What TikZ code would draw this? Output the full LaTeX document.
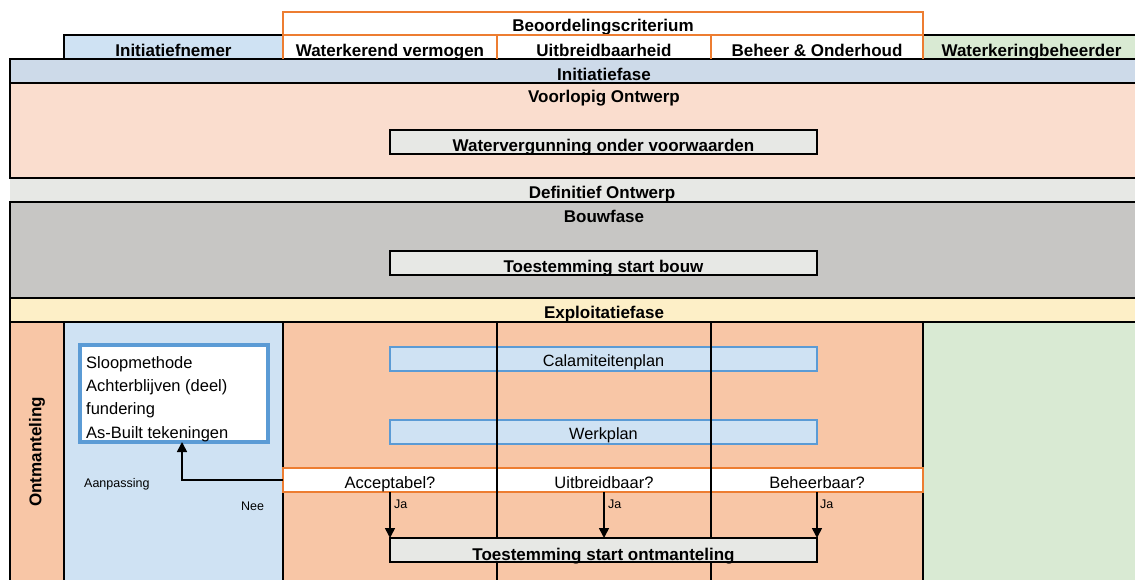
\documentclass[tikz,border=0pt]{standalone}
\usepackage{fontspec}
\setmainfont{Liberation Sans}
\usetikzlibrary{arrows.meta}
\definecolor{hdrblue}{RGB}{207,226,243}
\definecolor{wbgreen}{RGB}{217,234,211}
\definecolor{iniband}{RGB}{205,218,233}
\definecolor{voorl}{RGB}{250,221,206}
\definecolor{greyb}{RGB}{231,232,229}
\definecolor{bouw}{RGB}{199,198,196}
\definecolor{exploit}{RGB}{253,239,199}
\definecolor{peach}{RGB}{248,198,166}
\definecolor{orng}{RGB}{237,125,49}
\definecolor{bblue}{RGB}{91,155,213}
\begin{document}
\begin{tikzpicture}[x=1pt,y=-1pt,
  area/.style={draw=none,inner sep=0pt,outer sep=0pt,minimum height=24},
  cell/.style={area,text depth=0pt,text height=20,font=\fontsize{17}{20}\selectfont\bfseries},
  bandlbl/.style={inner sep=0pt,anchor=base,font=\fontsize{17}{20}\selectfont\bfseries},
  gbox/.style={area,fill=greyb,draw=black,line width=2.8pt,minimum width=427,text depth=0pt,text height=20,font=\fontsize{17}{20}\selectfont\bfseries},
  bbox/.style={area,fill=hdrblue,draw=bblue,line width=2.6pt,minimum width=427,text depth=0pt,text height=14,font=\fontsize{16.3}{19}\selectfont},
  itm/.style={inner sep=0pt,anchor=base west,font=\fontsize{16.5}{19}\selectfont},
  qtxt/.style={inner sep=0pt,anchor=base,font=\fontsize{16.5}{19}\selectfont},
  small/.style={inner sep=0pt,anchor=base west,font=\fontsize{12.5}{15}\selectfont},
  bline/.style={line width=2.8pt,black},
  oline/.style={line width=2.4pt,orng},
  arr/.style={line width=1.6pt,black,-{Triangle[length=10pt,width=10pt]}}]
\useasboundingbox (0,0) rectangle (1135,580);
\fill[white] (0,0) rectangle (1135,580);
% header
\node[cell,fill=white,minimum width=640,minimum height=23,text height=17] (crit) at (603,23.5) {Beoordelingscriterium};
\node[cell,fill=hdrblue,minimum width=219] (hIni) at (173.5,47) {Initiatiefnemer};
\node[cell,fill=white,minimum width=214] (hWK) at (390,47) {Waterkerend vermogen};
\node[cell,fill=white,minimum width=214] (hUB) at (604,47) {Uitbreidbaarheid};
\node[cell,fill=white,minimum width=212] (hBO) at (817,47) {Beheer \& Onderhoud};
\node[cell,fill=wbgreen,minimum width=217,text width=212,align=center] (hWB) at (1031.5,47) {Waterkeringbeheerder};
% bands
\node[area,fill=iniband,minimum width=1135] (bIni) at (577.5,71) {};
\node[bandlbl] (tIni) at (604,81) {Initiatiefase};
\node[area,fill=voorl,minimum width=1135,minimum height=95] (bVO) at (577.5,130.5) {};
\node[bandlbl] (tVO) at (604,103) {Voorlopig Ontwerp};
\node[gbox] (wvg) at (603.5,142) {Watervergunning onder voorwaarden};
\node[area,fill=greyb,minimum width=1135] (bDO) at (577.5,190) {};
\node[bandlbl] (tDO) at (602,198.5) {Definitief Ontwerp};
\node[area,fill=bouw,minimum width=1135,minimum height=96] (bBF) at (577.5,250) {};
\node[bandlbl] (tBF) at (604,222.5) {Bouwfase};
\node[gbox,text height=18] (tsb) at (603.5,263) {Toestemming start bouw};
\node[area,fill=exploit,minimum width=1135] (bEX) at (577.5,310) {};
\node[bandlbl] (tEX) at (604,318) {Exploitatiefase};
% bottom columns
\node[area,fill=peach,minimum width=54,minimum height=263] (cOnt) at (37,453.5) {};
\node[area,fill=hdrblue,minimum width=219,minimum height=263] (cIni) at (173.5,453.5) {};
\node[area,fill=peach,minimum width=640,minimum height=263] (cCrit) at (603,453.5) {};
\node[area,fill=wbgreen,minimum width=222,minimum height=263] (cWB) at (1034,453.5) {};
\node[inner sep=0pt,rotate=90,font=\fontsize{17}{20}\selectfont\bfseries] (tOnt) at (37,452) {Ontmanteling};
% black lines
\draw[bline] (64,59) -- (64,35) -- (283,35);
\draw[bline] (923,35) -- (1145,35);
\draw[bline] (1145,59) -- (10,59) -- (10,178) -- (1145,178);
\draw[bline] (10,83) -- (1145,83);
\draw[bline] (1145,202) -- (10,202) -- (10,585);
\draw[bline] (10,298) -- (1145,298);
\draw[bline] (10,322) -- (1145,322);
\draw[bline] (64,322) -- (64,585);
\draw[bline] (283,322) -- (283,585);
\draw[bline] (923,322) -- (923,585);
% orange header lines
\draw[oline] (283,59) -- (283,12) -- (923,12) -- (923,59);
\draw[oline] (283,35) -- (923,35);
\draw[oline] (497,35) -- (497,59);
\draw[oline] (711,35) -- (711,59);
% list box
\node[area,fill=white,draw=bblue,line width=3.2pt,minimum width=188,minimum height=97] (list) at (174,393.5) {};
\node[itm] (l1) at (86,368) {Sloopmethode};
\node[itm] (l2) at (86,391) {Achterblijven (deel)};
\node[itm] (l3) at (86,414) {fundering};
\node[itm] (l4) at (86,438) {As-Built tekeningen};
% blue boxes
\node[bbox] (cal) at (603.5,359) {Calamiteitenplan};
\node[bbox] (wp) at (603.5,432) {Werkplan};
% question row
\node[area,fill=white,draw=orng,line width=2.4pt,minimum width=640] (qrow) at (603,480) {};
\node[qtxt] (q1) at (390,488) {Acceptabel?};
\node[qtxt] (q2) at (604,488) {Uitbreidbaar?};
\node[qtxt] (q3) at (817,488) {Beheerbaar?};
\draw[bline] (497,322) -- (497,585);
\draw[bline] (711,322) -- (711,585);
% final box
\node[gbox] (tso) at (603.5,550) {Toestemming start ontmanteling};
% arrows
\draw[arr] (q1 |- qrow.south) -- (q1 |- tso.north);
\draw[arr] (q2 |- qrow.south) -- (q2 |- tso.north);
\draw[arr] (q3 |- qrow.south) -- (q3 |- tso.north);
\draw[arr] (qrow.west) -| ([xshift=8]list.south);
\node[small] (ja1) at (394,508) {Ja};
\node[small] (ja2) at (608,508) {Ja};
\node[small] (ja3) at (820,508) {Ja};
\node[small] (aanp) at (84,487) {Aanpassing};
\node[small] (nee) at (241,510) {Nee};
\end{tikzpicture}
\end{document}
